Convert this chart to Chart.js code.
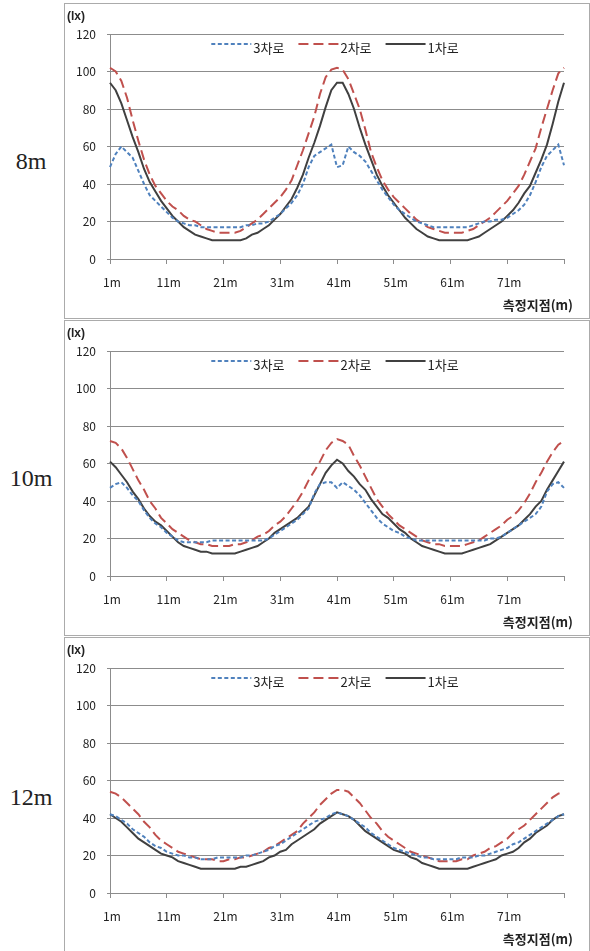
<!DOCTYPE html>
<html>
<head>
<meta charset="utf-8">
<script src="https://cdn.jsdelivr.net/npm/chart.js@4"></script>
<style>
  body { margin: 0; background: #fff; width: 590px; height: 951px; position: relative; overflow: hidden; }
  .panel { position: absolute; left: 64px; width: 524px; height: 314px; border: 1px solid #ababab; background: #fff; }
  .side { position: absolute; left: 0; width: 62px; height: 30px; line-height: 30px; text-align: center;
          font-family: 'Liberation Serif', 'DejaVu Serif', serif; font-size: 24px; color: #222; }
  canvas { display: block; }
</style>
</head>
<body>
<div class="side" style="top:146px">8m</div>
<div class="side" style="top:463px">10m</div>
<div class="side" style="top:782px">12m</div>
<div class="panel" style="top:3px"><canvas id="c8" width="524" height="314"></canvas></div>
<div class="panel" style="top:320px"><canvas id="c10" width="524" height="314"></canvas></div>
<div class="panel" style="top:637px"><canvas id="c12" width="524" height="314"></canvas></div>
<script>
// 측정지점 1m ~ 81m
const points = ['1m','2m','3m','4m','5m','6m','7m','8m','9m','10m',
  '11m','12m','13m','14m','15m','16m','17m','18m','19m','20m',
  '21m','22m','23m','24m','25m','26m','27m','28m','29m','30m',
  '31m','32m','33m','34m','35m','36m','37m','38m','39m','40m',
  '41m','42m','43m','44m','45m','46m','47m','48m','49m','50m',
  '51m','52m','53m','54m','55m','56m','57m','58m','59m','60m',
  '61m','62m','63m','64m','65m','66m','67m','68m','69m','70m',
  '71m','72m','73m','74m','75m','76m','77m','78m','79m','80m',
  '81m'];
const tickLabels = ['1m','11m','21m','31m','41m','51m','61m','71m'];
const yTicks = [0, 20, 40, 60, 80, 100, 120];
const seriesNames = ['3차로', '2차로', '1차로'];
const xTitle = '측정지점(m)';
const unit = '(lx)';

// 8m
const lane3_8 = [49,56,60,57,54,47,40,34,31,28,
  25,22,20,19,18,18,17,17,17,17,
  17,17,17,17,18,18,19,19,20,22,
  24,27,30,34,40,49,55,57,59,61,
  49,50,60,57,55,52,47,42,37,33,
  29,26,24,22,20,19,18,17,17,17,
  17,17,17,17,18,19,20,20,21,21,
  22,24,26,29,34,41,49,55,58,61,
  50];
const lane2_8 = [102,100,95,86,74,63,53,45,39,35,
  31,28,26,23,21,20,18,16,15,14,
  14,14,14,15,17,19,21,24,27,30,
  33,37,42,50,58,67,76,88,97,101,
  102,101,96,88,80,69,57,49,42,37,
  33,30,27,24,21,19,17,16,15,14,
  14,14,14,15,16,18,20,22,25,28,
  31,35,39,45,52,59,70,80,90,99,
  102];
const lane1_8 = [94,90,83,74,65,57,48,41,36,31,
  27,23,20,17,15,13,12,11,10,10,
  10,10,10,10,11,13,14,16,18,21,
  24,28,32,38,45,54,62,71,81,90,
  94,94,88,80,70,61,53,45,39,34,
  30,26,22,19,16,14,12,11,10,10,
  10,10,10,10,11,12,14,16,18,20,
  23,26,30,35,39,46,53,61,72,84,
  94];

// 10m
const lane3_10 = [47,49,50,47,43,40,35,31,28,26,
  23,21,19,18,18,18,18,18,19,19,
  19,19,19,19,19,19,19,19,20,22,
  24,26,28,30,33,36,44,49,50,50,
  47,50,48,46,43,39,35,31,28,26,
  24,23,21,20,19,19,19,19,19,19,
  19,19,19,19,19,19,19,20,20,21,
  23,25,27,29,31,33,37,45,49,50,
  47];
const lane2_10 = [72,71,68,63,57,51,46,40,36,31,
  28,25,23,21,19,18,17,17,16,16,
  16,16,17,17,18,19,21,22,24,27,
  29,32,36,40,45,51,56,61,67,71,
  73,72,70,64,59,53,47,41,37,33,
  30,27,25,23,21,19,18,17,17,16,
  16,16,16,17,18,19,21,23,25,27,
  30,32,35,39,44,50,55,61,66,70,
  72];
const lane1_10 = [61,58,54,50,45,41,36,32,29,27,
  24,21,18,16,15,14,13,13,12,12,
  12,12,12,13,14,15,16,18,20,23,
  25,27,29,31,34,37,43,49,55,59,
  62,60,56,53,49,46,41,37,33,31,
  28,25,23,20,18,16,15,14,13,12,
  12,12,12,13,14,15,16,17,19,21,
  23,25,27,30,33,37,40,46,51,56,
  61];

// 12m
const lane3_12 = [42,41,39,37,34,32,30,27,25,24,
  22,21,20,20,19,19,18,18,18,19,
  19,19,19,19,20,20,21,22,23,25,
  26,28,30,32,34,36,38,39,40,42,
  43,42,41,39,37,35,32,30,28,26,
  24,23,22,21,20,19,19,18,18,18,
  18,18,19,19,19,20,20,21,22,23,
  24,26,27,29,31,33,35,37,39,41,
  42];
const lane2_12 = [54,53,51,48,45,42,38,35,31,28,
  26,24,22,21,20,19,18,18,18,17,
  17,18,18,19,19,20,21,22,24,25,
  27,29,31,33,37,40,43,47,50,53,
  55,55,54,51,48,44,40,37,33,30,
  28,26,24,22,21,20,19,18,17,17,
  17,17,18,18,20,21,22,24,25,27,
  29,32,34,36,39,42,45,48,51,53,
  54];
const lane1_12 = [42,40,38,35,32,29,27,25,23,21,
  20,19,17,16,15,14,13,13,13,13,
  13,13,13,14,14,15,16,17,19,20,
  22,23,26,28,30,32,34,37,39,41,
  43,42,41,39,36,33,31,29,27,25,
  23,22,21,19,18,16,15,14,13,13,
  13,13,13,13,14,15,16,17,18,20,
  21,22,24,27,29,32,34,36,39,41,
  42];

const FONT = '"Noto Sans CJK KR", "Liberation Sans", sans-serif';
const GRID = '#8c8c8c';

// legend, (lx) and x title are drawn on the canvas
const extraText = {
  id: 'extraText',
  afterDraw(chart) {
    const ctx = chart.ctx;
    const area = chart.chartArea;
    ctx.save();
    ctx.fillStyle = '#222';
    ctx.textBaseline = 'middle';

    ctx.font = 'bold 12px "Liberation Sans", sans-serif';
    ctx.textAlign = 'left';
    ctx.fillText(unit, 2, 13);

    ctx.font = 'bold 13px ' + FONT;
    ctx.textAlign = 'right';
    ctx.fillText(xTitle, area.right + 9, area.bottom + 46);

    // legend inside plot
    ctx.font = '13px ' + FONT;
    ctx.textAlign = 'left';
    const sample = 40, gap = 2, space = 14;
    const sets = chart.data.datasets;
    let total = 0;
    sets.forEach((d, i) => {
      total += sample + gap + ctx.measureText(d.label).width + (i < sets.length - 1 ? space : 0);
    });
    let x = (area.left + area.right) / 2 - total / 2 - 2;
    const ly = area.top + 10, ty = area.top + 14;
    sets.forEach(d => {
      ctx.strokeStyle = d.borderColor;
      ctx.lineWidth = d.borderWidth;
      ctx.setLineDash(d.borderDash || []);
      ctx.beginPath();
      ctx.moveTo(x, ly);
      ctx.lineTo(x + sample, ly);
      ctx.stroke();
      ctx.setLineDash([]);
      x += sample + gap;
      ctx.fillText(d.label, x, ty);
      x += ctx.measureText(d.label).width + space;
    });
    ctx.restore();
  }
};

function makeChart(id, lane3, lane2, lane1) {
  const ctx = document.getElementById(id).getContext('2d');
  return new Chart(ctx, {
    type: 'line',
    data: {
      labels: points,
      datasets: [
        {
          label: seriesNames[0],
          data: lane3,
          borderColor: '#4f81bd',
          borderWidth: 2,
          borderDash: [4, 2.5],
          pointRadius: 0,
          tension: 0,
          fill: false
        },
        {
          label: seriesNames[1],
          data: lane2,
          borderColor: '#c0504d',
          borderWidth: 2,
          borderDash: [10, 5],
          pointRadius: 0,
          tension: 0,
          fill: false
        },
        {
          label: seriesNames[2],
          data: lane1,
          borderColor: '#404040',
          borderWidth: 2,
          pointRadius: 0,
          tension: 0,
          fill: false
        }
      ]
    },
    options: {
      responsive: false,
      animation: false,
      devicePixelRatio: 1,
      layout: { padding: { left: 0, right: 25, top: 30, bottom: 0 } },
      plugins: {
        legend: { display: false },
        tooltip: { enabled: false }
      },
      scales: {
        x: {
          ticks: {
            autoSkip: false,
            maxRotation: 0,
            padding: 11,
            labelOffset: 2,
            color: '#222',
            font: { family: FONT, size: 12 },
            callback: (v, i) => tickLabels.includes(points[i]) ? points[i] : ''
          },
          grid: {
            drawOnChartArea: false,
            tickLength: 5,
            color: c => (c.index % 10 === 0 ? GRID : 'rgba(0,0,0,0)')
          },
          border: { color: GRID },
          afterFit(scale) { scale.height = 59; }
        },
        y: {
          min: yTicks[0],
          max: yTicks[yTicks.length - 1],
          ticks: {
            stepSize: yTicks[1] - yTicks[0],
            padding: 11,
            color: '#222',
            font: { family: FONT, size: 12 }
          },
          grid: { color: GRID, tickLength: 3 },
          border: { color: GRID },
          afterFit(scale) { scale.width = 45; }
        }
      }
    },
    plugins: [extraText]
  });
}

makeChart('c8', lane3_8, lane2_8, lane1_8);
makeChart('c10', lane3_10, lane2_10, lane1_10);
makeChart('c12', lane3_12, lane2_12, lane1_12);
</script>
</body>
</html>
